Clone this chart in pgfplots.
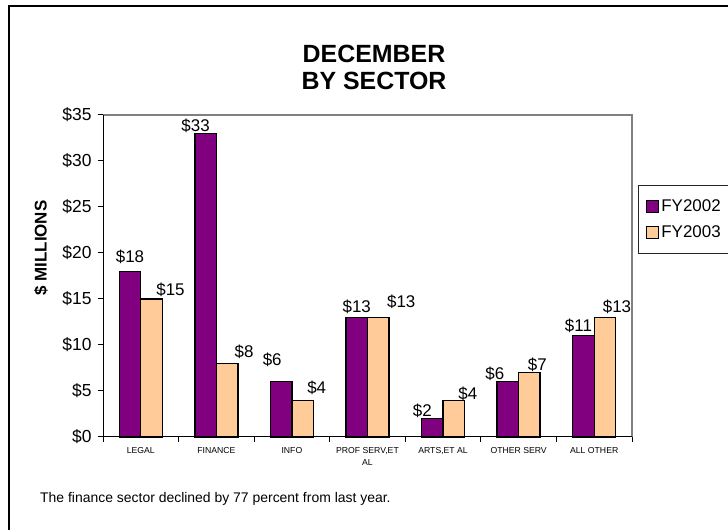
\documentclass[border=0pt]{standalone}
\usepackage{fontspec}
\setmainfont{Liberation Sans}
\usepackage{pgfplots}
\pgfplotsset{compat=1.18}
\usepackage{pgfplotstable}
\definecolor{fyA}{HTML}{800080}
\definecolor{fyB}{HTML}{FFCC99}

% x = category, y = $ millions, dx/dy = label offset (bp)
\pgfplotstableread{
x y dx dy
0 18 0 9
1 33 -10 2
2 6 -9 16
3 13 0 5
4 2 -10 2
5 6 -13 2
6 11 -5 4
}\tabA
\pgfplotstableread{
x y dx dy
0 15 19 3
1 8 17 6
2 4 14 7
3 13 23 10
4 4 14 1
5 7 8 2
6 13 12 5
}\tabB

\begin{document}
\begin{tikzpicture}
\useasboundingbox (0bp,0bp) rectangle (728bp,530bp);
\draw[line width=1.5bp] (9bp,-20bp) -- (9bp,524bp) -- (760bp,524bp);
\node[anchor=base, font=\fontsize{25}{27}\selectfont\bfseries] at (374bp,467bp) {DECEMBER};
\node[anchor=base, font=\fontsize{25}{27}\selectfont\bfseries] at (374bp,440bp) {BY SECTOR};
\node[rotate=90, font=\fontsize{17}{20}\selectfont\bfseries] at (41bp,282bp) {\$ MILLIONS};
\node[anchor=base west, inner sep=0pt, font=\fontsize{14}{16}\selectfont] at (40bp,28bp)
  {The finance sector declined by 77 percent from last year.};
\begin{axis}[
  at={(103bp,93bp)}, anchor=south west,
  scale only axis, width=529bp, height=322bp,
  ybar=0pt, bar width=21.5bp,
  xmin=-0.5, xmax=6.5, ymin=0, ymax=35,
  clip=false,
  xtick={0,...,6},
  xticklabels={LEGAL,FINANCE,INFO,{PROF SERV,ET\\AL},{ARTS,ET AL},OTHER SERV,ALL OTHER},
  minor xtick={-0.5,0.5,...,6.5},
  ytick={0,5,...,35},
  yticklabel={\$\pgfmathprintnumber{\tick}},
  /pgf/number format/assume math mode=true,
  tick align=outside, tick pos=left,
  major tick length=5bp, minor tick length=5bp,
  major x tick style={draw=none},
  tick style={black, line width=1bp},
  axis line style={draw=none},
  xticklabel style={font=\fontsize{8.7}{12}\selectfont, align=center, yshift=-2bp},
  yticklabel style={font=\fontsize{17.5}{20}\selectfont, xshift=-3bp},
  legend style={at={(1.0113,0.7826)}, anchor=north west, draw=black!85, line width=0.8bp,
    font=\fontsize{17}{20}\selectfont, inner xsep=8bp, inner ysep=12bp, row sep=9bp},
  legend cell align=left,
  legend image code/.code={\draw[#1, line width=1bp] (0bp,-6bp) rectangle (12bp,6bp);},
  every node near coord/.append style={font=\fontsize{17}{20}\selectfont, text=black},
]
\addplot[fill=fyA, draw=black, line width=1.3bp,
  nodes near coords={\$\pgfmathprintnumber{\pgfplotspointmeta}},
  visualization depends on={\thisrow{dx}\as\dx},
  visualization depends on={\thisrow{dy}\as\dy},
  every node near coord/.append style={anchor=base, xshift=\dx bp, yshift=\dy bp}]
  table[x=x, y=y] {\tabA};
\addplot[fill=fyB, draw=black, line width=1.3bp,
  nodes near coords={\$\pgfmathprintnumber{\pgfplotspointmeta}},
  visualization depends on={\thisrow{dx}\as\dx},
  visualization depends on={\thisrow{dy}\as\dy},
  every node near coord/.append style={anchor=base, xshift=\dx bp, yshift=\dy bp}]
  table[x=x, y=y] {\tabB};
\legend{FY2002, FY2003}
\draw[gray, line width=2bp] (rel axis cs:0,1) -- (rel axis cs:1,1) -- (rel axis cs:1,0);
\draw[black, line width=1bp] (rel axis cs:0,1) -- (rel axis cs:0,0) -- (rel axis cs:1,0);
\end{axis}
\end{tikzpicture}
\end{document}
